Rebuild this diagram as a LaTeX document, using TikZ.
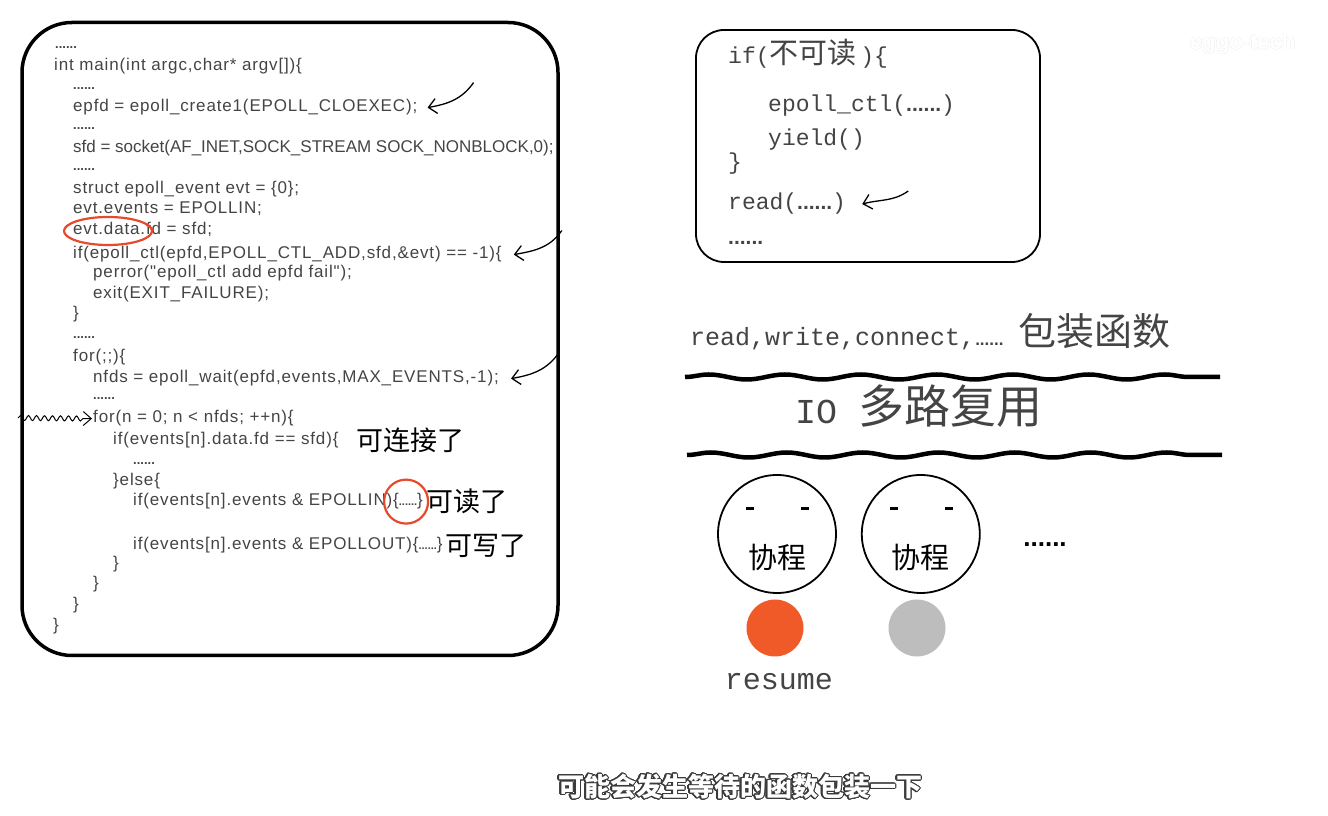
\documentclass[tikz,border=0pt]{standalone}
\usepackage{fontspec}
\setmainfont{Liberation Sans}
\setmonofont{Liberation Mono}
\newfontfamily\codefont[LetterSpace=5]{Liberation Sans}
\newfontfamily\cjk{Noto Sans CJK SC}
\usepackage{contour}
\contourlength{1.1pt}
\contournumber{24}
\usepackage{tikz}
\usetikzlibrary{arrows.meta,positioning,shapes.geometric,decorations.pathmorphing}
\definecolor{inkgray}{HTML}{444444}
\definecolor{ringred}{HTML}{E64A2A}
\definecolor{runorange}{HTML}{F05A28}
\definecolor{idlegray}{HTML}{BDBDBD}
\definecolor{subgray}{HTML}{3A3A3A}
\newcommand\dotrow[1]{{\normalfont\fontsize{#1}{#1}\selectfont\bfseries ......}}
\tikzset{
  codeline/.style={anchor=base west, inner sep=0pt, text=inkgray,
    font=\codefont\fontsize{17}{20}\selectfont},
  monoline/.style={anchor=base west, inner sep=0pt, text=inkgray,
    font=\ttfamily\fontsize{#1}{#1}\selectfont},
  monoline/.default=23,
  note/.style={inner sep=0pt, font=\cjk\fontsize{#1}{#1}\selectfont},
  note/.default=26,
  codepanel/.style={draw, line width=3.5pt, rounded corners=50pt,
    minimum width=536pt, minimum height=633pt},
  snippetbox/.style={draw, line width=1.8pt, rounded corners=28pt,
    minimum width=344pt, minimum height=232pt},
  handarrow/.style={-{Straight Barb[length=8pt,width=15pt]}, line width=1.3pt},
  wavearrow/.style={-{Straight Barb[length=8pt,width=14pt]}, line width=1pt,
    decorate, decoration={snake, amplitude=2.5pt, segment length=8pt,
    post length=9pt}},
  ring/.style={draw=ringred, line width=2.2pt, inner sep=0pt},
  layerline/.style={line width=4.5pt, decorate,
    decoration={snake, amplitude=2.5pt, segment length=76pt}},
  face/.style={circle, draw, line width=1.8pt, minimum size=118pt, inner sep=0pt},
  eye/.style={fill=black, minimum width=8pt, minimum height=3pt, inner sep=0pt},
  statedot/.style={circle, fill=#1, minimum size=57pt, inner sep=0pt},
  subtitle/.style={inner sep=0pt, text=white,
    font=\cjk\bfseries\fontsize{26}{28}\selectfont},
}
\begin{document}
\begin{tikzpicture}[x=1pt, y=1pt]
\useasboundingbox (0,0) rectangle (1328,816);

% ── code panel ──
\node[codepanel] (panel) at (290,477) {};

\node[codeline] (l0) at (55,767) {\dotrow{13}};
\node[codeline] (l1) at (54,745) {int main(int argc,char* argv[])\{};
\node[codeline] (l2) at (73,726) {\dotrow{13}};
\node[codeline] (l3) at (73,704) {epfd = epoll\_create1(EPOLL\_CLOEXEC);};
\node[codeline] (l4) at (73,686) {\dotrow{13}};
\node[codeline] (l5) at (73,663) {\addfontfeature{LetterSpace=0}sfd = socket(AF\_INET,SOCK\_STREAM SOCK\_NONBLOCK,0);};
\node[codeline] (l6) at (73,645) {\dotrow{13}};
\node[codeline] (l7) at (73,622) {struct epoll\_event evt = \{0\};};
\node[codeline] (l8) at (73,602) {evt.events = EPOLLIN;};
\node[codeline] (l9) at (73,581) {evt.data.fd = sfd;};
\node[codeline] (l10) at (73,557) {if(epoll\_ctl(epfd,EPOLL\_CTL\_ADD,sfd,\&evt) == -1)\{};
\node[codeline] (l11) at (93,538) {perror("epoll\_ctl add epfd fail");};
\node[codeline] (l12) at (93,517) {exit(EXIT\_FAILURE);};
\node[codeline] (l13) at (73,497) {\}};
\node[codeline] (l14) at (73,477) {\dotrow{13}};
\node[codeline] (l15) at (73,454) {for(;;)\{};
\node[codeline] (l16) at (93,433) {nfds = epoll\_wait(epfd,events,MAX\_EVENTS,-1);};
\node[codeline] (l17) at (93,416) {\dotrow{13}};
\node[codeline] (l18) at (93,393) {for(n = 0; n < nfds; ++n)\{};
\node[codeline] (l19) at (113,371) {if(events[n].data.fd == sfd)\{};
\node[codeline] (l20) at (133,351) {\dotrow{13}};
\node[codeline] (l21) at (113,330) {\}else\{};
\node[codeline] (l22) at (133,310) {if(events[n].events \& EPOLLIN)\{\dotrow{11}\}};
\node[codeline] (l23) at (133,266) {if(events[n].events \& EPOLLOUT)\{\dotrow{11}\}};
\node[codeline] (l24) at (113,247) {\}};
\node[codeline] (l25) at (93,227) {\}};
\node[codeline] (l26) at (73,206) {\}};
\node[codeline] (l27) at (53,185) {\}};

% notes on the code
\node[note=27, right=18pt of l19] (canconn) {可连接了};
\node[note=27, right=3pt of l22] (canread) {可读了};
\node[note=27, right=2pt of l23] (canwrite) {可写了};

% red marks
\node[ring, ellipse, minimum width=88pt, minimum height=28pt] (ringfd) at (108,585) {};
\node[ring, circle, minimum size=44pt] (ringin) at ([xshift=-17pt]l22.east) {};

% hand arrows
\coordinate (h1) at ([xshift=10pt]l3.east);
\coordinate (t1) at ([shift={(46pt,25pt)}]h1);
\draw[handarrow] (t1) to[out=235, in=10] (h1);
\coordinate (h2) at ([xshift=12pt]l10.east);
\coordinate (t2) at ([shift={(48pt,24pt)}]h2);
\draw[handarrow] (t2) to[out=235, in=10] (h2);
\coordinate (h3) at ([xshift=12pt]l16.east);
\coordinate (t3) at ([shift={(48pt,26pt)}]h3);
\draw[handarrow] (t3) to[out=235, in=10] (h3);
\coordinate (w0) at (18,398);
\draw[wavearrow] (w0) -- ([xshift=-1pt]l18.west);

% ── wrapper snippet ──
\node[snippetbox] (snippet) at (868,670) {};
\node[monoline] (s1) at (728,752) {if({\cjk\fontsize{29}{29}\selectfont 不可读}\,)\{};
\node[monoline] (s2) at (768,704) {epoll\_ctl(\dotrow{21})};
\node[monoline] (s3) at (768,670) {yield()};
\node[monoline] (s4) at (728,646) {\}};
\node[monoline] (s5) at (728,606) {read(\dotrow{21})};
\node[monoline] (s6) at (728,571) {\dotrow{21}};
\coordinate (h4) at ([xshift=16pt]s5.east);
\coordinate (t4) at ([shift={(46pt,13pt)}]h4);
\draw[handarrow] (t4) to[out=215, in=15] (h4);

% ── layers ──
\node[monoline=25] (wrapfns) at (690,470)
  {read,write,connect,\dotrow{17}\ {\cjk\fontsize{38}{38}\selectfont 包装函数}};
\coordinate (r1a) at (685,439);
\coordinate (r1b) at (1220,439);
\draw[layerline] (r1a) -- (r1b);
\node[monoline=35, anchor=base west] (iomux) at (795,392)
  {IO {\cjk\fontsize{46}{46}\selectfont 多路复用}};
\coordinate (r2a) at (687,361);
\coordinate (r2b) at (1222,361);
\draw[layerline] (r2a) -- (r2b);

% ── coroutines ──
\node[face] (co1) at (777,282) {};
\node[face, right=24pt of co1] (co2) {};
\foreach \c in {co1,co2}{
  \node[eye] (\c eyeL) at ([shift={(-27pt,25pt)}]\c.center) {};
  \node[eye] (\c eyeR) at ([shift={(28pt,25pt)}]\c.center) {};
  \node[note=29] (\c txt) at ([yshift=-23pt]\c.center) {协程};
}
\node[inner sep=0pt] (more) at (1045,271) {\dotrow{26}};
\node[statedot=runorange] (run) at (775,188) {};
\node[statedot=idlegray] (idle) at (917,188) {};
\node[monoline=30, anchor=center] (resume) at (779,134) {resume};

% ── subtitle ──
\node[subtitle] (caption) at (740,29) {\contour{subgray}{可能会发生等待的函数包装一下}};
\node[anchor=west, inner sep=0pt, text=white,
  font=\bfseries\fontsize{22}{22}\selectfont] (mark) at (1190,772)
  {\contourlength{0.4pt}\contour{gray!10}{eggo-tech}};

\end{tikzpicture}
\end{document}
